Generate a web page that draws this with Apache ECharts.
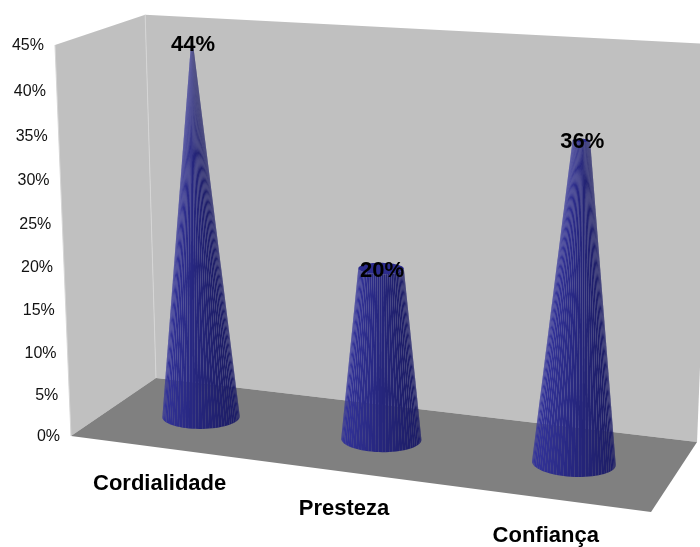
<!DOCTYPE html>
<html>
<head>
<meta charset="utf-8">
<style>html,body{margin:0;padding:0;background:#fff}#chart{width:700px;height:547px}</style>
<script src="https://cdn.jsdelivr.net/npm/echarts@6/dist/echarts.min.js"></script>
</head>
<body>
<div id="chart"></div>
<script>
const categories = ['Cordialidade', 'Presteza', 'Confiança'];
const values = [44, 20, 36];
const axisMax = 45;
const axisStep = 5;
const yTicks = [0, 5, 10, 15, 20, 25, 30, 35, 40, 45];

// Perspective camera: u runs along the front edge, v up the wall, w into the depth.
const camX = [71, 516.3, -18.62, 97.54];
const camY = [436, 25.9, -393.14, -27.6];
const camW = [1, -0.0979, -0.0476, 0.0804];
function project(u, v, w) {
  const d = camW[0] + camW[1] * u + camW[2] * v + camW[3] * w;
  return [
    (camX[0] + camX[1] * u + camX[2] * v + camX[3] * w) / d,
    (camY[0] + camY[1] * u + camY[2] * v + camY[3] * w) / d
  ];
}
// Turns a point of the hidden cartesian grid into unit coordinates for the camera.
function toUnit(api, params, cat, val) {
  const p = api.coord([cat, val]);
  const r = params.coordSys;
  return [(p[0] - r.x) / r.width, 1 - (p[1] - r.y) / r.height];
}

const coneDepth = 0.5;
const radiusU = 0.068;
const radiusW = 0.19;
const facets = 36;
const shadeLeft = [54, 54, 158];
const shadeMid = [42, 42, 134];
const shadeRight = [30, 30, 104];

function shade(t) {
  const a = t < 0.5 ? shadeLeft : shadeMid;
  const b = t < 0.5 ? shadeMid : shadeRight;
  const k = t < 0.5 ? t * 2 : (t - 0.5) * 2;
  return 'rgb(' + a.map((c, i) => Math.round(c + (b[i] - c) * k)).join(',') + ')';
}

function renderRoom() {
  const floor = [project(0, 0, 0), project(1, 0, 0), project(1, 0, 1), project(0, 0, 1)];
  const side = [project(0, 0, 0), project(0, 0, 1), project(0, 1, 1), project(0, 1, 0)];
  const back = [project(0, 0, 1), project(1, 0, 1), project(1, 1, 1), project(0, 1, 1)];
  const edge = { stroke: '#d6d6d6', lineWidth: 1 };
  return {
    type: 'group',
    children: [
      { type: 'polygon', shape: { points: back }, style: { fill: '#c0c0c0' } },
      { type: 'polygon', shape: { points: side }, style: { fill: '#c0c0c0' } },
      { type: 'polygon', shape: { points: floor }, style: { fill: '#808080' } },
      { type: 'line', shape: { x1: side[1][0], y1: side[1][1], x2: side[2][0], y2: side[2][1] }, style: edge },
      { type: 'line', shape: { x1: side[0][0], y1: side[0][1], x2: side[3][0], y2: side[3][1] }, style: edge }
    ]
  };
}

function renderCone(params, api) {
  const cat = api.value(0);
  const val = api.value(1);
  const u0 = toUnit(api, params, cat, 0)[0];
  const v1 = toUnit(api, params, cat, val)[1];
  // Every cone narrows towards an apex at the top of the axis, then is cut at its value.
  const taper = 1 - val / axisMax;
  const ring = (v, scale, a) => project(
    u0 + radiusU * scale * Math.cos(a), v, coneDepth - radiusW * scale * Math.sin(a));
  const children = [];
  const cap = [];
  for (let i = 0; i < facets * 2; i++) {
    const a0 = (i / (facets * 2)) * Math.PI * 2;
    const a1 = ((i + 1) / (facets * 2)) * Math.PI * 2;
    const p = [ring(0, 1, a0), ring(0, 1, a1), ring(v1, taper, a1), ring(v1, taper, a0)];
    cap.push(ring(v1, taper, a0));
    let area = 0;
    for (let k = 0; k < 4; k++) {
      const n = p[(k + 1) % 4];
      area += p[k][0] * n[1] - n[0] * p[k][1];
    }
    if (area <= 0) continue;
    const mid = (a0 + a1) / 2;
    children.push({
      type: 'polygon',
      shape: { points: p },
      style: { fill: shade((Math.cos(mid) + 1) / 2) }
    });
  }
  if (taper > 0.05) {
    children.push({ type: 'polygon', shape: { points: cap }, style: { fill: '#2c2c8c' } });
  }
  return { type: 'group', children };
}

function renderValueLabel(params, api) {
  const cat = api.value(0);
  const val = api.value(1);
  const u = toUnit(api, params, cat, 0)[0];
  const v = toUnit(api, params, cat, val)[1];
  const p = project(u, v, coneDepth);
  return {
    type: 'text',
    style: {
      text: val + '%', x: p[0] + 1, y: p[1] + 2, align: 'center', verticalAlign: 'middle',
      fontFamily: '"Liberation Sans", Arial, sans-serif', fontWeight: 'bold', fontSize: 22, fill: '#000'
    }
  };
}

function renderTick(params, api) {
  const val = api.value(1);
  const v = toUnit(api, params, 0, val)[1];
  const p = project(0, v, 0);
  return {
    type: 'text',
    style: {
      text: val + '%', x: p[0] - 11, y: p[1] + 1, align: 'right', verticalAlign: 'middle',
      fontFamily: '"Liberation Sans", Arial, sans-serif', fontSize: 16, fill: '#111'
    }
  };
}

function renderCategory(params, api) {
  const cat = api.value(0);
  const u = toUnit(api, params, cat, 0)[0];
  const p = project(u, 0, 0);
  return {
    type: 'text',
    style: {
      text: categories[cat], x: p[0] - (cat === 1 ? 2 : 0), y: p[1] + 36 + cat, align: 'center', verticalAlign: 'middle',
      fontFamily: '"Liberation Sans", Arial, sans-serif', fontWeight: 'bold', fontSize: 22, fill: '#000'
    }
  };
}

const chart = echarts.init(document.getElementById('chart'));
chart.setOption({
  animation: false,
  backgroundColor: '#ffffff',
  grid: { left: 0, right: 0, top: 0, bottom: 0 },
  xAxis: { type: 'category', data: categories, show: false },
  yAxis: { type: 'value', min: 0, max: axisMax, interval: axisStep, show: false },
  series: [
    { type: 'custom', silent: true, clip: false, z: 1, data: [[0, 0]], renderItem: renderRoom },
    { type: 'custom', silent: true, clip: false, z: 2, data: values.map((v, i) => [i, v]), renderItem: renderCone },
    { type: 'custom', silent: true, clip: false, z: 3, data: values.map((v, i) => [i, v]), renderItem: renderValueLabel },
    { type: 'custom', silent: true, clip: false, z: 3, data: yTicks.map(v => [0, v]), renderItem: renderTick },
    { type: 'custom', silent: true, clip: false, z: 3, data: categories.map((c, i) => [i, 0]), renderItem: renderCategory }
  ]
});
</script>
</body>
</html>
